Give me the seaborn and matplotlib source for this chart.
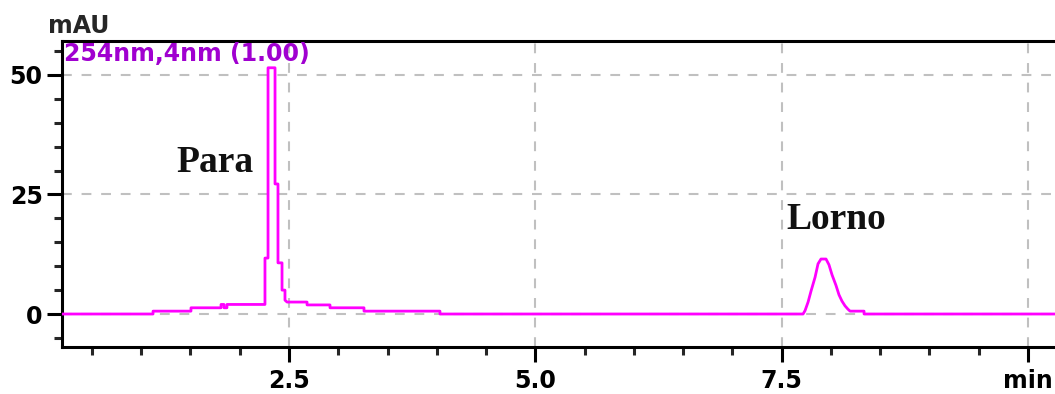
import matplotlib
matplotlib.use("Agg")
import matplotlib.pyplot as plt
import seaborn as sns
from matplotlib.ticker import MultipleLocator

# =========================
# DATA
# =========================

time_min = [0.196, 1.120, 1.120, 1.505, 1.505, 1.810, 1.810, 1.840, 1.840, 1.870, 1.870,
            2.236, 2.256, 2.256, 2.287, 2.287, 2.358, 2.358, 2.388, 2.388, 2.429, 2.429,
            2.459, 2.459, 2.480, 2.683, 2.683, 2.916, 2.916, 3.261, 3.261, 4.032, 4.032,
            7.717, 7.737, 7.768, 7.798, 7.839, 7.869, 7.899, 7.950, 7.980, 8.011, 8.051,
            8.082, 8.112, 8.143, 8.173, 8.194, 8.336, 8.336, 10.274]
signal_mau = [0.0, 0.0, 0.6, 0.6, 1.3, 1.3, 2.0, 2.0, 1.3, 1.3, 2.0,
              2.0, 2.0, 11.7, 11.7, 51.5, 51.5, 27.2, 27.2, 10.7, 10.7, 5.0,
              5.0, 2.9, 2.5, 2.5, 1.9, 1.9, 1.3, 1.3, 0.6, 0.6, 0.0,
              0.0, 0.7, 2.5, 4.8, 7.7, 10.5, 11.5, 11.5, 10.3, 8.2, 6.0,
              4.0, 2.7, 1.7, 1.0, 0.6, 0.6, 0.0, 0.0]

peak_names = ["Para", "Lorno"]
peak_label_x = [1.36, 7.55]
peak_label_y = [29.7, 17.8]

x_ticks = [2.5, 5.0, 7.5, 10.0]
x_tick_labels = ["2.5", "5.0", "7.5", "min"]
y_ticks = [0, 25, 50]
y_tick_labels = ["0", "25", "50"]

# =========================
# PLOT
# =========================

sns.set_style("white")
plt.rcParams['font.family'] = ['DejaVu Sans']

fig = plt.figure(figsize=(10.55, 3.94), dpi=100)
ax = fig.add_axes([62 / 1055, 1 - 347 / 394, 1 - 62 / 1055, (347 - 41) / 394])

ax.grid(True, color="#c0c0c0", linestyle=(0, (4.7, 4.7)), linewidth=1.5, zorder=0)

sns.lineplot(x=time_min, y=signal_mau, sort=False, estimator=None,
             color="#ff00ff", linewidth=2.0, ax=ax, zorder=3)

ax.set_xlim(0.196, 10.274)
ax.set_ylim(-6.9, 57.1)

ax.set_xticks(x_ticks)
ax.set_xticklabels(x_tick_labels)
ax.set_yticks(y_ticks)
ax.set_yticklabels(y_tick_labels)
ax.xaxis.set_minor_locator(MultipleLocator(0.5))
ax.yaxis.set_minor_locator(MultipleLocator(5))

ax.tick_params(axis="both", which="major", direction="out", length=11, width=2.2,
               colors="black", labelsize=17, bottom=True, left=True)
ax.tick_params(axis="both", which="minor", direction="out", length=6, width=2.2,
               bottom=True, left=True)
ax.tick_params(axis="x", which="major", pad=5)
ax.tick_params(axis="y", which="major", pad=3)
for lbl in ax.get_xticklabels() + ax.get_yticklabels():
    lbl.set_fontweight("bold")

for side in ["top", "left", "bottom"]:
    ax.spines[side].set_color("black")
    ax.spines[side].set_linewidth(2.2)
ax.spines["right"].set_visible(False)

ax.set_xlabel("")
ax.set_ylabel("")

# detector channel label
ax.text(0.002, 0.998, "254nm,4nm (1.00)", transform=ax.transAxes, ha="left", va="top",
        color="#a000d0", fontsize=17, fontweight="bold", zorder=4)

# peak names
for name, px, py in zip(peak_names, peak_label_x, peak_label_y):
    ax.text(px, py, name, ha="left", va="baseline", fontsize=27, fontweight="bold",
            family="Liberation Serif", color="#111111", zorder=4)

fig.text(79 / 1055, 1 - 26 / 394, "mAU", ha="center", va="center",
         fontsize=17, fontweight="bold")

plt.savefig("out.png", dpi=100)
